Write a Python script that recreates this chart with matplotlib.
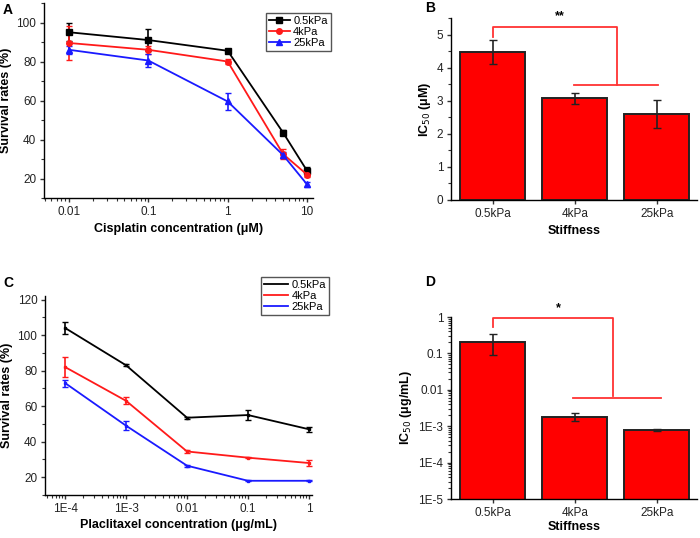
import matplotlib
matplotlib.use("Agg")
import matplotlib.pyplot as plt
from matplotlib.lines import Line2D
from matplotlib.ticker import MultipleLocator
import numpy as np

plt.rcParams['font.family'] = ['Liberation Sans', 'DejaVu Sans']
plt.rcParams['font.size'] = 8
plt.rcParams['axes.linewidth'] = 1.0

# Panel A: cisplatin survival
conc_a = [0.01, 0.1, 1, 5, 10]
surv_a = {
    "0.5kPa": [95, 91, 85.5, 43.5, 24],
    "4kPa": [89.5, 86, 80, 32.5, 22],
    "25kPa": [86, 80.5, 59.5, 32, 17],
}
err_a = {
    "0.5kPa": [4.5, 5.5, 0.5, 1.2, 2],
    "4kPa": [8.5, 2, 1.2, 2.5, 1.2],
    "25kPa": [2.2, 3.5, 4.5, 1.5, 1.2],
}

# Panel B: cisplatin IC50
stiffness = ["0.5kPa", "4kPa", "25kPa"]
ic50_b = [4.48, 3.07, 2.6]
ic50_b_err = [0.36, 0.16, 0.41]

# Panel C: paclitaxel survival
conc_c = [1e-4, 1e-3, 1e-2, 1e-1, 1]
surv_c = {
    "0.5kPa": [104, 83, 53.5, 55, 47],
    "4kPa": [82, 63, 34.5, 31, 28],
    "25kPa": [73, 49, 26.5, 18, 18],
}
err_c = {
    "0.5kPa": [3.5, 0.5, 0.6, 3, 1.5],
    "4kPa": [5.5, 2, 0.6, 0.2, 1.5],
    "25kPa": [2, 2.5, 0.5, 0.3, 0.3],
}

# Panel D: paclitaxel IC50
ic50_d = [0.21, 1.8e-3, 7.7e-4]
ic50_d_lo = [0.12, 0.42e-3, 0.5e-4]
ic50_d_hi = [0.13, 0.47e-3, 0.5e-4]

colors = {"0.5kPa": "black", "4kPa": "#ff1a1a", "25kPa": "#1a1aff"}
markers = {"0.5kPa": "s", "4kPa": "o", "25kPa": "^"}

W, H = 700, 538
fig = plt.figure(figsize=(W / 100, H / 100), dpi=100)


def px_axes(left, top, right, bottom):
    return fig.add_axes([left / W, 1 - bottom / H, (right - left) / W, (bottom - top) / H])


def style(ax):
    ax.spines["top"].set_visible(False)
    ax.spines["right"].set_visible(False)
    ax.tick_params(direction="out", length=3, width=1, labelsize=8.5, pad=2.5,
                   color="#333333", labelcolor="#222222")
    ax.tick_params(which="minor", direction="out", length=2, width=0.8, color="#333333")


def legend(ax, handles, x, y, hl):
    ax.legend(handles=handles, loc="upper left", bbox_to_anchor=(x / W, 1 - y / H),
              bbox_transform=fig.transFigure, fontsize=8, frameon=True, fancybox=False,
              edgecolor="#555555", handlelength=hl, borderpad=0.25, labelspacing=0.1,
              handletextpad=0.3, borderaxespad=0, framealpha=1)


lab = dict(fontweight="bold", fontsize=9)

# ---- A ----
ax = px_axes(44, 3, 313, 198)
for k in surv_a:
    ax.errorbar(conc_a, surv_a[k], yerr=err_a[k], color=colors[k], marker=markers[k],
                markersize=4, linewidth=1.3, capsize=2.5, elinewidth=1.2)
ax.set_xscale("log")
ax.set_xlim(0.00484, 11.9)
ax.set_ylim(10, 110)
ax.set_xticks([0.01, 0.1, 1, 10], ["0.01", "0.1", "1", "10"])
ax.set_yticks([20, 40, 60, 80, 100])
ax.yaxis.set_minor_locator(MultipleLocator(10))
style(ax)
ax.set_xlabel("Cisplatin concentration (μM)", labelpad=4, **lab)
ax.set_ylabel("Survival rates (%)", labelpad=3, **lab)
legend(ax, [Line2D([], [], color=colors[k], marker=markers[k], markersize=4, linewidth=1.3, label=k)
            for k in surv_a], 266, 13, 1.9)
fig.text(3 / W, 1 - 14 / H, "A", fontweight="bold", fontsize=10)

# ---- B ----
xb = np.arange(len(stiffness))
ax = px_axes(451, 18, 697, 200)
ax.bar(xb, ic50_b, width=0.79, color="#ff0000", edgecolor="#222222", linewidth=1.4,
       yerr=ic50_b_err, capsize=3, error_kw=dict(elinewidth=1.2, ecolor="#222222"))
ax.set_xlim(-0.51, 2.49)
ax.set_ylim(0, 5.5)
ax.set_xticks(xb, stiffness)
ax.set_yticks(range(6))
ax.yaxis.set_minor_locator(MultipleLocator(0.5))
style(ax)
ax.set_xlabel("Stiffness", labelpad=4, **lab)
ax.set_ylabel("IC$_{50}$ (μM)", labelpad=3, **lab)
ax.plot([0, 0, 1.52, 1.52], [4.92, 5.23, 5.23, 3.48], color="#ff3333", linewidth=1.3, clip_on=False)
ax.plot([0.99, 2.02], [3.48, 3.48], color="#ff3333", linewidth=1.3, clip_on=False)
ax.text(0.82, 5.55, "**", ha="center", va="center", fontsize=9, fontweight="bold")
fig.text(425 / W, 1 - 12 / H, "B", fontweight="bold", fontsize=10)

# ---- C ----
ax = px_axes(45, 296, 312, 495)
for k in surv_c:
    ax.errorbar(conc_c, surv_c[k], yerr=err_c[k], color=colors[k], marker="s",
                markersize=2, linewidth=1.3, capsize=2.5, elinewidth=1.2)
ax.set_xscale("log")
ax.set_xlim(10 ** -4.33, 10 ** 0.05)
ax.set_ylim(10, 122)
ax.set_xticks(conc_c, ["1E-4", "1E-3", "0.01", "0.1", "1"])
ax.set_yticks([20, 40, 60, 80, 100, 120])
ax.yaxis.set_minor_locator(MultipleLocator(10))
style(ax)
ax.set_xlabel("Placlitaxel concentration (μg/mL)", labelpad=3, **lab)
ax.set_ylabel("Survival rates (%)", labelpad=3, **lab)
legend(ax, [Line2D([], [], color=colors[k], linewidth=1.3, label=k) for k in surv_c], 261, 277, 2.2)
fig.text(3 / W, 1 - 287 / H, "C", fontweight="bold", fontsize=10)

# ---- D ----
ax = px_axes(451, 317, 697, 499)
ax.bar(xb, ic50_d, width=0.79, color="#ff0000", edgecolor="#222222", linewidth=1.4,
       yerr=[ic50_d_lo, ic50_d_hi], capsize=3, error_kw=dict(elinewidth=1.2, ecolor="#222222"))
ax.set_yscale("log")
ax.set_xlim(-0.51, 2.49)
ax.set_ylim(1e-5, 1)
ax.set_xticks(xb, stiffness)
ax.set_yticks([1e-5, 1e-4, 1e-3, 1e-2, 1e-1, 1], ["1E-5", "1E-4", "1E-3", "0.01", "0.1", "1"])
style(ax)
ax.set_xlabel("Stiffness", labelpad=2, **lab)
ax.set_ylabel("IC$_{50}$ (μg/mL)", labelpad=3, **lab)
ax.plot([0, 0, 1.46, 1.46], [0.54, 0.96, 0.96, 0.0066], color="#ff3333", linewidth=1.3, clip_on=False)
ax.plot([0.98, 2.05], [0.0058, 0.0058], color="#ff3333", linewidth=1.3, clip_on=False)
ax.text(0.8, 1.75, "*", ha="center", va="center", fontsize=9, fontweight="bold")
fig.text(425 / W, 1 - 286 / H, "D", fontweight="bold", fontsize=10)

fig.savefig("out.png", dpi=100)
